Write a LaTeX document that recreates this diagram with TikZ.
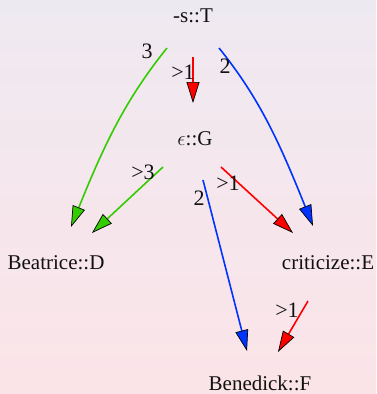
\documentclass[tikz,border=0pt]{standalone}
\usepackage{fontspec}
\setmainfont{Liberation Serif}
\usepackage{tikz}
\usepackage{xcolor}
\usetikzlibrary{
  positioning, arrows.meta, calc, backgrounds,
}
\definecolor{bgTop}    {HTML}{EFE9F1}
\definecolor{bgBottom} {HTML}{FBE4E8}
\definecolor{bgBand}   {HTML}{EDE9F0}
\definecolor{cText}    {HTML}{111111}
\definecolor{eGreen}   {HTML}{33CC00}
\definecolor{eRed}     {HTML}{FF0000}
\definecolor{eBlue}    {HTML}{0033FF}

\tikzset{
  state/.style={font=\fontsize{21}{24}\selectfont, text=cText, inner sep=0pt, anchor=base},
  elabel/.style={font=\fontsize{22}{24}\selectfont, text=cText, inner sep=0pt},
  edgeGreen/.style={draw=eGreen, line width=1.6pt,
    -{Triangle[length=21pt, width=13pt, color=black, fill=eGreen, line width=0.7pt]}},
  edgeRed/.style={draw=eRed, line width=1.6pt,
    -{Triangle[length=21pt, width=13pt, color=black, fill=eRed, line width=0.7pt]}},
  edgeBlue/.style={draw=eBlue, line width=1.6pt,
    -{Triangle[length=21pt, width=13pt, color=black, fill=eBlue, line width=0.7pt]}},
}

\begin{document}
\begin{tikzpicture}[x=1pt, y=-1pt]
        \useasboundingbox (0,0) rectangle (376,394);
        \fill[top color=bgTop, bottom color=bgBottom] (0,0) rectangle (376,394);
        \fill[bgBand] (0,0) rectangle (376,14);
        % states
        \node[state] (t) at (193,22)  {-s::T};
        \node[state] (g) at (195,145) {$\epsilon$::G};
        \node[state] (d) at (56,269)  {Beatrice::D};
        \node[state] (e) at (328,269) {criticize::E};
        \node[state] (f) at (260,390) {Benedick::F};
        % edges from -s::T
        \draw[edgeGreen] ($(t.base)+(-26,26)$) .. controls +(-40.6,50.3) and +(33.7,-83.9) .. ($(d.base)+(15,-42)$);
        \draw[edgeRed] ($(t.base)+(0,35)$) -- ($(g.base)+(-2,-42)$);
        \draw[edgeBlue] ($(t.base)+(26,26)$) .. controls +(40.6,50.3) and +(-33.7,-83.9) .. ($(e.base)+(-15,-43)$);
        % edges from eps::G
        \draw[edgeGreen] ($(g.base)+(-32,22)$) -- ($(d.base)+(36,-36)$);
        \draw[edgeRed] ($(g.base)+(26,22)$) -- ($(e.base)+(-35,-36)$);
        \draw[edgeBlue] ($(g.base)+(8,35)$) -- ($(f.base)+(-13,-39)$);
        % edge from criticize::E
        \draw[edgeRed] ($(e.base)+(-20,32)$) -- ($(f.base)+(18,-38)$);
        % weights
        \node[elabel] (w1) at (147,51)  {3};
        \node[elabel] (w2) at (183,72)  {>1};
        \node[elabel] (w3) at (225,66)  {2};
        \node[elabel] (w4) at (143,172) {>3};
        \node[elabel] (w5) at (228,183) {>1};
        \node[elabel] (w6) at (199,198) {2};
        \node[elabel] (w7) at (287,310) {>1};
      \end{tikzpicture}
\end{document}
